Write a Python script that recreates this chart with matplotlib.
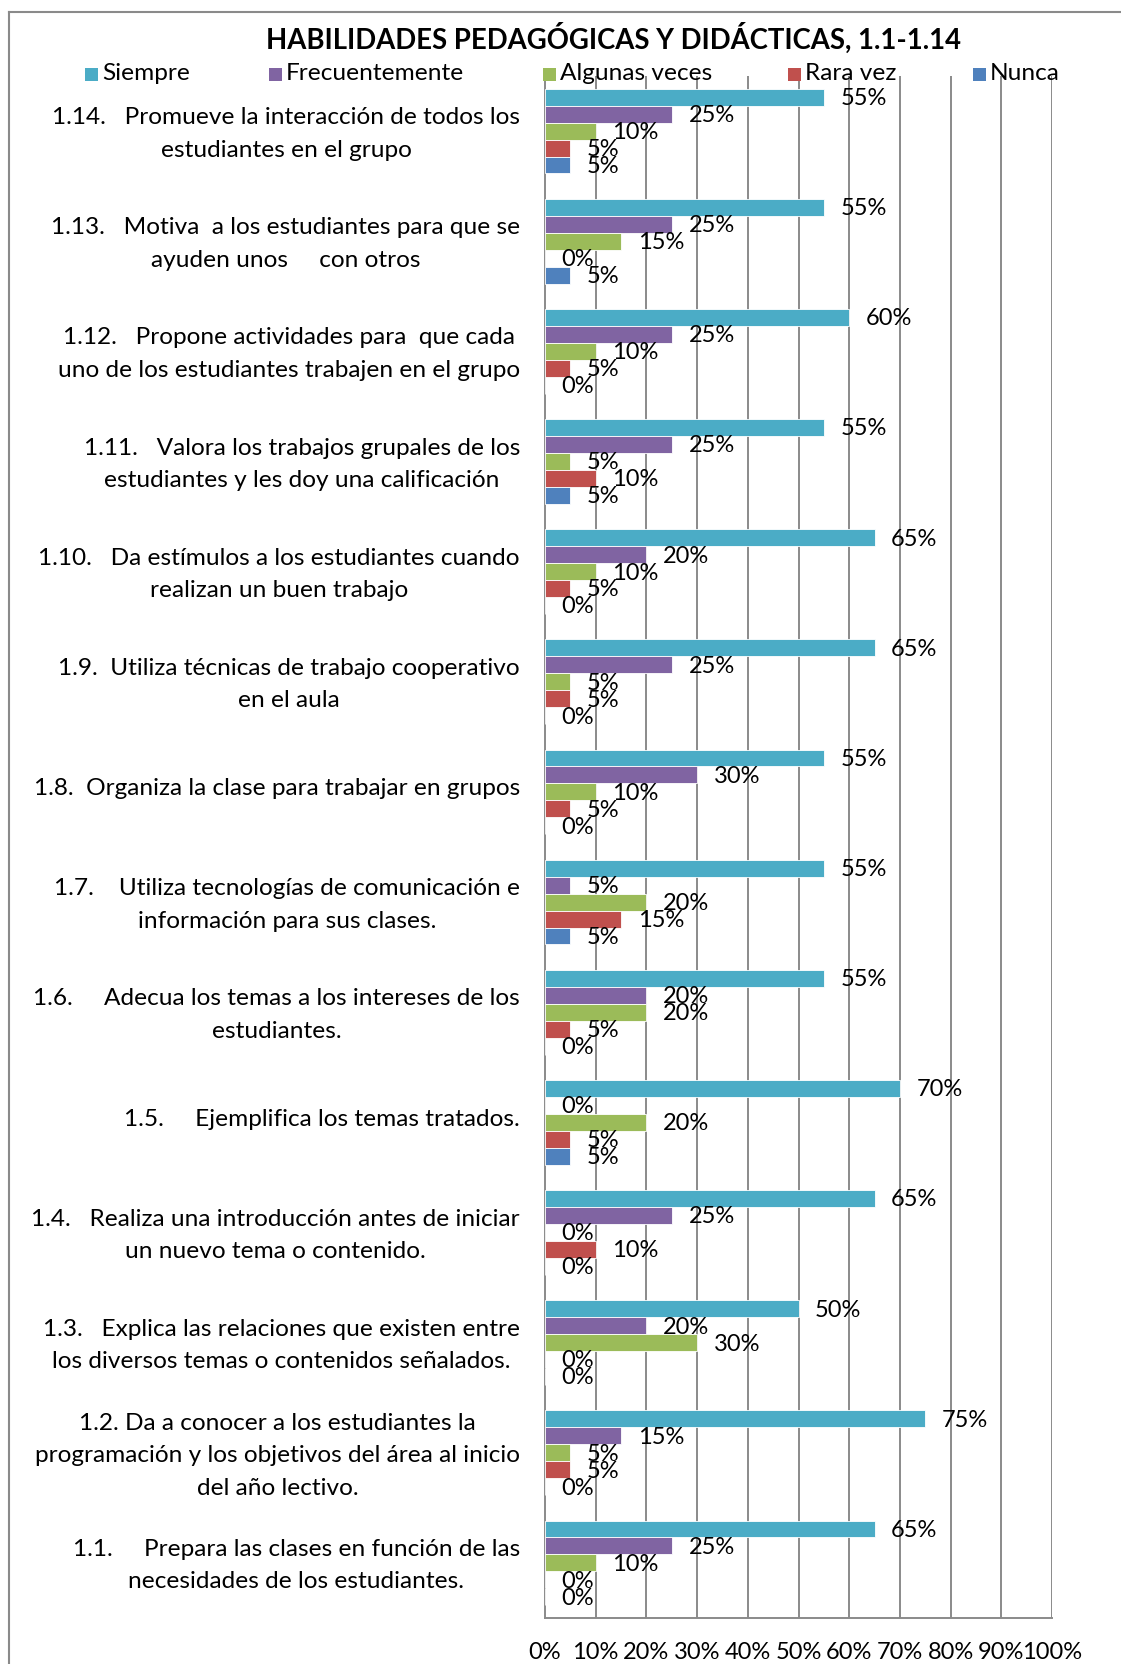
import matplotlib.pyplot as plt
import matplotlib.patches as mpatches
import matplotlib.transforms as mtransforms
import numpy as np

# ── Datos ──
series = ["Siempre", "Frecuentemente", "Algunas veces", "Rara vez", "Nunca"]
colors = ["#4BACC6", "#8064A2", "#9BBB59", "#C0504D", "#4F81BD"]

# de abajo (1.1) hacia arriba (1.14)
items = [
    "1.1.     Prepara las clases en función de las\nnecesidades de los estudiantes.",
    "1.2. Da a conocer a los estudiantes la\nprogramación y los objetivos del área al inicio\ndel año lectivo.",
    "1.3.   Explica las relaciones que existen entre\nlos diversos temas o contenidos señalados.",
    "1.4.   Realiza una introducción antes de iniciar\nun nuevo tema o contenido.",
    "1.5.     Ejemplifica los temas tratados.",
    "1.6.     Adecua los temas a los intereses de los\nestudiantes.",
    "1.7.    Utiliza tecnologías de comunicación e\ninformación para sus clases.",
    "1.8.  Organiza la clase para trabajar en grupos",
    "1.9.  Utiliza técnicas de trabajo cooperativo\nen el aula",
    "1.10.   Da estímulos a los estudiantes cuando\nrealizan un buen trabajo",
    "1.11.   Valora los trabajos grupales de los\nestudiantes y les doy una calificación",
    "1.12.   Propone actividades para  que cada\nuno de los estudiantes trabajen en el grupo",
    "1.13.   Motiva  a los estudiantes para que se\nayuden unos     con otros",
    "1.14.   Promueve la interacción de todos los\nestudiantes en el grupo",
]

siempre = [65, 75, 50, 65, 70, 55, 55, 55, 65, 65, 55, 60, 55, 55]
frecuentemente = [25, 15, 20, 25, 0, 20, 5, 30, 25, 20, 25, 25, 25, 25]
algunas_veces = [10, 5, 30, 0, 20, 20, 20, 10, 5, 10, 5, 10, 15, 10]
rara_vez = [0, 5, 0, 10, 5, 5, 15, 5, 5, 5, 10, 5, 0, 5]
nunca = [0, 0, 0, 0, 5, 0, 5, 0, 0, 0, 5, 0, 5, 5]

values = [siempre, frecuentemente, algunas_veces, rara_vez, nunca]
ticks = [0, 10, 20, 30, 40, 50, 60, 70, 80, 90, 100]

FONT = "Lato"
GRID = "#8A8A8A"

W, H = 1121, 1664
fig = plt.figure(figsize=(W / 100, H / 100), dpi=100)
fig.patch.set_facecolor("white")

# ── Área de trazado ──
x0, x1 = 545, 1052
y0, y1 = 76, 1618
ax = fig.add_axes([x0 / W, 1 - y1 / H, (x1 - x0) / W, (y1 - y0) / H])

n = len(items)
y = np.arange(n)
h = 0.154
for j, (name, vals, c) in enumerate(zip(series, values, colors)):
    pos = y + (2 - j) * h
    ax.barh(pos, vals, height=h, color=c, edgecolor="white", linewidth=0.6, zorder=3)
    for yy, v in zip(pos, vals):
        ax.annotate(
            f"{v}%",
            xy=(v, yy),
            xytext=(12, -1),
            textcoords="offset points",
            ha="left",
            va="center",
            fontsize=17,
            family=FONT,
            color="black",
            zorder=4,
        )

ax.set_xlim(0, 100)
ax.set_ylim(-0.5, n - 0.5)
ax.set_xticks(ticks)
ax.set_xticklabels([f"{t}%" for t in ticks], family=FONT, fontsize=17)
ax.tick_params(axis="x", length=0, pad=17)
ax.set_yticks(y)
ax.set_yticklabels(items, family=FONT, fontsize=17.6, multialignment="center", linespacing=1.68)
ax.tick_params(axis="y", length=0, pad=18)
shift = mtransforms.ScaledTranslation(0, 5 / 100, fig.dpi_scale_trans)
for lbl in ax.get_yticklabels():
    lbl.set_transform(lbl.get_transform() + shift)

for t in ticks[1:]:
    ax.axvline(t, color=GRID, lw=1.4, zorder=1)
for s in ["top", "right"]:
    ax.spines[s].set_visible(False)
for s in ["left", "bottom"]:
    ax.spines[s].set_color(GRID)
    ax.spines[s].set_linewidth(1.4)

# ── Título ──
fig.text(613 / W, 1 - 38 / H, "HABILIDADES PEDAGÓGICAS Y DIDÁCTICAS, 1.1-1.14",
         ha="center", va="center", fontsize=19.8, fontweight="bold", family=FONT)

# ── Leyenda ──
leg_x = [85, 269, 543, 788, 973]
leg_y = 74
sq = 13
for lx, name, c in zip(leg_x, series, colors):
    fig.add_artist(mpatches.Rectangle(
        (lx / W, 1 - (leg_y + sq / 2) / H), sq / W, sq / H,
        facecolor=c, edgecolor="none", transform=fig.transFigure))
    fig.text((lx + sq + 4) / W, 1 - leg_y / H, name, ha="left", va="center",
             fontsize=17.6, family=FONT)

# ── Borde del gráfico ──
fig.add_artist(plt.Line2D([9 / W, 9 / W], [0, 1 - 12 / H], color=GRID, lw=1.5,
                          transform=fig.transFigure))
fig.add_artist(plt.Line2D([9 / W, 1], [1 - 12 / H, 1 - 12 / H], color=GRID, lw=1.5,
                          transform=fig.transFigure))

fig.savefig("out.png", dpi=100, facecolor="white")
